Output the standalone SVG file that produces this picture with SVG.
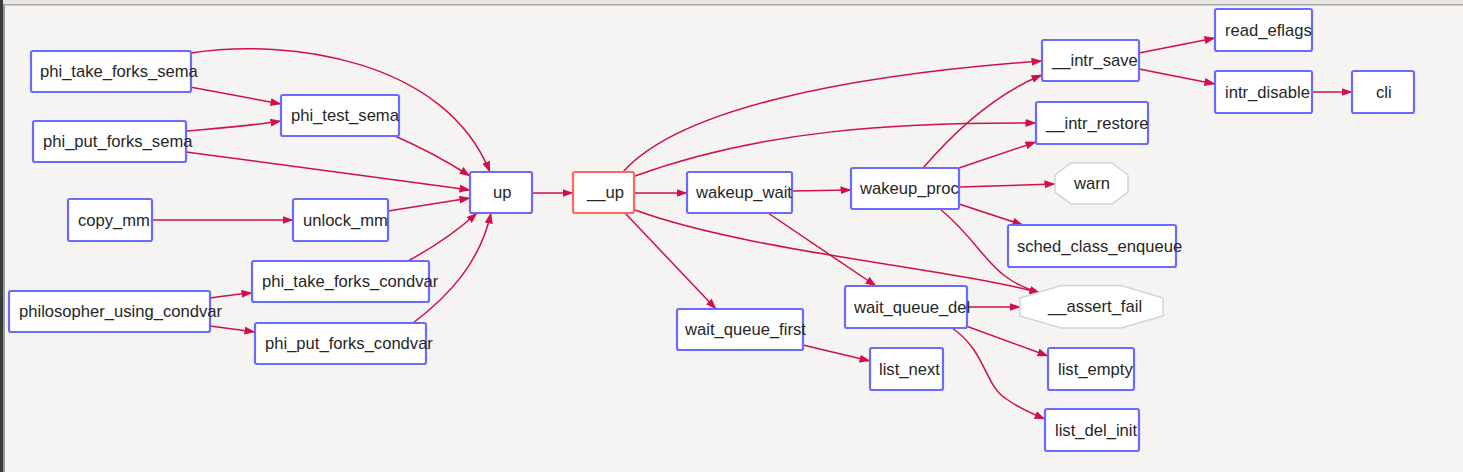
<svg xmlns="http://www.w3.org/2000/svg" width="1463" height="472" viewBox="0 0 1463 472">
<style>
.bg{fill:#f5f4f2}
.n rect{fill:#fff;stroke:#6a6aff;stroke-width:2.2}
.n.root rect{stroke:#ff6666}
.n polygon{fill:#fff;stroke:#d4d4d4;stroke-width:1.5}
.n text{font-family:"Liberation Sans",Arial,sans-serif;font-size:16.6px;fill:#262626}
.e path{fill:none;stroke:#d0104a;stroke-width:1.5}
</style>
<defs>
<marker id="ah" markerUnits="userSpaceOnUse" markerWidth="11" markerHeight="8" refX="10.5" refY="4" orient="auto">
<path d="M0,0 L11,4 L0,8 z" fill="#d0104a"/>
</marker>
</defs>
<rect class="bg" x="0" y="0" width="1463" height="472"/>
<rect x="0" y="0" width="1463" height="4" fill="#e7e4e1"/>
<rect x="0" y="4" width="1463" height="1.5" fill="#a9a7a5"/>
<rect x="0" y="0" width="3" height="472" fill="#3a3a3a"/>
<rect x="3" y="5" width="2" height="467" fill="#9a9896"/>

<g class="e" id="edges" marker-end="url(#ah)">
<path d="M191,53 C290,38 445,60 490,172"/>
<path d="M190,87 L281,104"/>
<path d="M186,131 C220,128 250,126 281,121"/>
<path d="M186,152 L470,190"/>
<path d="M395,136 C420,147 445,160 470,176"/>
<path d="M152,220 L293,220"/>
<path d="M388,211 L470,198"/>
<path d="M408,261 C432,248 455,233 477,213"/>
<path d="M413,323 C450,295 480,262 491,213"/>
<path d="M210,298 C225,296 238,294 252,293"/>
<path d="M210,326 C225,328 240,330 255,332"/>
<path d="M532,193 L573,193"/>
<path d="M634,193 L687,193"/>
<path d="M623,172 C680,108 850,75 1042,61"/>
<path d="M635,176 C760,130 900,122 1036,123"/>
<path d="M625,213 L716,309"/>
<path d="M635,210 C750,252 950,268 1040,293"/>
<path d="M792,191 L851,190"/>
<path d="M768,213 L876,286"/>
<path d="M923,168 C960,125 1000,92 1042,75"/>
<path d="M959,168 L1036,142"/>
<path d="M959,187 L1055,184"/>
<path d="M959,204 L1023,225"/>
<path d="M940,209 C972,235 985,262 1005,276 C1018,286 1030,290 1040,293"/>
<path d="M967,307 L1020,307"/>
<path d="M966,326 L1048,356"/>
<path d="M952,328 C985,350 985,385 1005,398 C1020,409 1033,414 1045,419"/>
<path d="M803,345 L870,361"/>
<path d="M1139,53 L1215,38"/>
<path d="M1139,69 L1215,84"/>
<path d="M1312,92 L1352,92"/>
</g>

<g class="n" id="phi_take_forks_sema"><rect x="31" y="51" width="160" height="41" rx="2"/><text x="40" y="77">phi_take_forks_sema</text></g>
<g class="n" id="phi_put_forks_sema"><rect x="33" y="121" width="153" height="41" rx="2"/><text x="43" y="147">phi_put_forks_sema</text></g>
<g class="n" id="phi_test_sema"><rect x="281" y="95" width="118" height="41" rx="2"/><text x="291" y="121">phi_test_sema</text></g>
<g class="n" id="copy_mm"><rect x="68" y="199" width="84" height="42" rx="2"/><text x="78" y="225.5">copy_mm</text></g>
<g class="n" id="unlock_mm"><rect x="293" y="199" width="95" height="42" rx="2"/><text x="303" y="225.5">unlock_mm</text></g>
<g class="n" id="philosopher_using_condvar"><rect x="9" y="291" width="201" height="41" rx="2"/><text x="19" y="317">philosopher_using_condvar</text></g>
<g class="n" id="phi_take_forks_condvar"><rect x="252" y="261" width="177" height="41" rx="2"/><text x="262" y="287">phi_take_forks_condvar</text></g>
<g class="n" id="phi_put_forks_condvar"><rect x="255" y="323" width="171" height="41" rx="2"/><text x="265" y="349">phi_put_forks_condvar</text></g>
<g class="n" id="up"><rect x="470" y="172" width="62" height="41" rx="2"/><text x="493" y="198">up</text></g>
<g class="n root" id="__up"><rect x="573" y="172" width="61" height="41" rx="2"/><text x="587" y="198">__up</text></g>
<g class="n" id="wakeup_wait"><rect x="687" y="172" width="105" height="41" rx="2"/><text x="696" y="198">wakeup_wait</text></g>
<g class="n" id="wakeup_proc"><rect x="851" y="168" width="108" height="41" rx="2"/><text x="860" y="194">wakeup_proc</text></g>
<g class="n" id="__intr_save"><rect x="1042" y="40" width="97" height="41" rx="2"/><text x="1052" y="66">__intr_save</text></g>
<g class="n" id="read_eflags"><rect x="1215" y="9" width="97" height="42" rx="2"/><text x="1225" y="35.5">read_eflags</text></g>
<g class="n" id="intr_disable"><rect x="1215" y="71" width="97" height="42" rx="2"/><text x="1225" y="97.5">intr_disable</text></g>
<g class="n" id="cli"><rect x="1352" y="71" width="62" height="42" rx="2"/><text x="1376" y="97.5">cli</text></g>
<g class="n" id="__intr_restore"><rect x="1036" y="102" width="112" height="42" rx="2"/><text x="1046" y="128.5">__intr_restore</text></g>
<g class="n" id="warn"><polygon points="1071,163 1112,163 1128,175 1128,192 1112,204 1071,204 1055,192 1055,175"/><text x="1074" y="189">warn</text></g>
<g class="n" id="sched_class_enqueue"><rect x="1008" y="225" width="168" height="42" rx="2"/><text x="1017" y="251.5">sched_class_enqueue</text></g>
<g class="n" id="__assert_fail"><polygon points="1061,285.5 1121,285.5 1163,298 1163,316 1121,328 1061,328 1020,316 1020,298"/><text x="1048" y="312">__assert_fail</text></g>
<g class="n" id="wait_queue_first"><rect x="677" y="309" width="126" height="41" rx="2"/><text x="685" y="335">wait_queue_first</text></g>
<g class="n" id="wait_queue_del"><rect x="845" y="286" width="122" height="42" rx="2"/><text x="854" y="312.5">wait_queue_del</text></g>
<g class="n" id="list_next"><rect x="870" y="348" width="73" height="42" rx="2"/><text x="879" y="374.5">list_next</text></g>
<g class="n" id="list_empty"><rect x="1048" y="348" width="86" height="42" rx="2"/><text x="1058" y="374.5">list_empty</text></g>
<g class="n" id="list_del_init"><rect x="1045" y="409" width="94" height="42" rx="2"/><text x="1055" y="435.5">list_del_init</text></g>
</svg>
